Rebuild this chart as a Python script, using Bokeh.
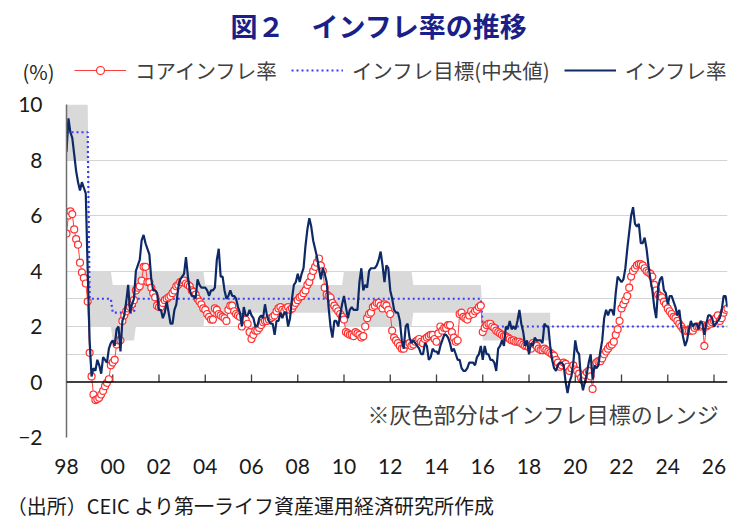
import numpy as np
from bokeh.plotting import figure
from bokeh.layouts import column
from bokeh.models import (Range1d, FixedTicker, Span, Label, Legend, LegendItem,
                          ColumnDataSource)
from bokeh.embed import file_html
from bokeh.resources import INLINE

# ---------------- data (monthly, Jan 1998 - Aug 2026) ----------------
start_year = 1998

# headline inflation (YoY, %)
cpi = [
    8.3, 9.5, 9.0, 8.8, 8.2, 7.6, 7.2, 6.9, 7.2, 7.0, 6.8, 4.0,      # 1998
    1.5, 0.2, 0.5, 0.4, 0.8, 0.6, 0.3, 0.9, 0.8, 0.7, 1.2, 1.4,      # 1999
    1.5, 1.3, 1.9, 2.0, 1.1, 2.2, 2.4, 2.9, 3.5, 2.5, 2.8, 3.0,      # 2000
    4.0, 4.2, 4.4, 5.1, 5.3, 5.0, 4.8, 4.6, 3.7, 3.3, 3.3, 3.2,      # 2001
    2.6, 2.6, 2.3, 2.5, 2.9, 2.5, 2.1, 2.1, 2.6, 2.8, 3.4, 3.7,      # 2002
    3.8, 3.9, 4.5, 3.8, 3.3, 3.1, 3.1, 3.0, 3.7, 3.5, 3.4, 3.4,      # 2003
    3.4, 3.3, 3.1, 3.3, 3.3, 3.4, 4.4, 4.8, 3.8, 3.8, 3.3, 3.0,      # 2004
    3.1, 3.3, 3.1, 3.1, 3.0, 2.7, 2.5, 2.0, 2.7, 2.4, 2.4, 2.6,      # 2005
    2.4, 2.3, 2.0, 2.0, 2.3, 2.4, 2.3, 2.8, 2.4, 2.2, 2.1, 2.1,      # 2006
    1.7, 2.2, 2.2, 2.5, 2.3, 2.5, 2.5, 2.0, 2.3, 3.0, 3.5, 3.6,      # 2007
    3.9, 3.6, 3.9, 4.1, 4.9, 5.5, 5.9, 5.6, 5.1, 4.8, 4.5, 4.1,      # 2008
    3.7, 4.1, 3.9, 3.6, 2.7, 2.0, 1.6, 2.2, 2.2, 2.0, 2.4, 2.8,      # 2009
    3.1, 2.7, 2.3, 2.6, 2.7, 2.6, 2.6, 2.6, 3.6, 4.1, 3.3, 3.5,      # 2010
    3.4, 4.0, 4.1, 4.1, 4.1, 4.2, 4.4, 4.7, 4.2, 3.6, 4.2, 4.1,      # 2011
    3.3, 3.0, 2.6, 2.5, 2.5, 2.2, 1.5, 1.2, 2.0, 2.1, 1.6, 1.4,      # 2012
    1.5, 1.4, 1.3, 1.2, 1.0, 1.0, 1.4, 1.3, 0.8, 0.9, 1.2, 1.1,      # 2013
    1.1, 1.0, 1.3, 1.5, 1.7, 1.7, 1.6, 1.4, 1.1, 1.2, 1.0, 0.8,      # 2014
    0.8, 0.5, 0.4, 0.4, 0.5, 0.7, 0.7, 0.7, 0.6, 0.9, 1.0, 1.3,      # 2015
    0.8, 1.3, 1.0, 1.0, 0.8, 0.8, 0.7, 0.4, 1.2, 1.3, 1.5, 1.3,      # 2016
    2.0, 1.9, 2.2, 1.9, 2.0, 1.9, 2.2, 2.6, 2.1, 1.8, 1.3, 1.5,      # 2017
    1.0, 1.4, 1.3, 1.6, 1.5, 1.5, 1.5, 1.4, 2.1, 2.0, 2.0, 1.3,      # 2018
    0.8, 0.5, 0.4, 0.6, 0.7, 0.7, 0.6, 0.0, -0.4, 0.0, 0.2, 0.7,     # 2019
    1.5, 1.1, 1.0, 0.1, -0.3, 0.0, 0.3, 0.7, 1.0, 0.1, 0.6, 0.5,     # 2020
    0.6, 1.1, 1.5, 2.3, 2.6, 2.4, 2.6, 2.6, 2.4, 3.2, 3.8, 3.7,      # 2021
    3.6, 3.7, 4.1, 4.8, 5.4, 6.0, 6.3, 5.7, 5.6, 5.7, 5.0, 5.0,      # 2022
    5.2, 4.8, 4.2, 3.7, 3.3, 2.7, 2.3, 3.4, 3.7, 3.8, 3.3, 3.2,      # 2023
    2.8, 3.1, 3.1, 2.9, 2.7, 2.4, 2.6, 2.0, 1.6, 1.3, 1.5, 1.9,      # 2024
    2.2, 2.0, 2.1, 2.1, 1.9, 2.2, 2.1, 1.7, 2.1, 2.4, 2.4, 2.3,      # 2025
    2.0, 2.1, 2.2, 2.3, 2.6, 3.1, 3.1, 2.7,                          # 2026
]

# core inflation (YoY, %)
core = [
    5.35, 6.0, 6.15, 6.05, 5.5, 5.15, 4.95, 4.3, 3.95, 3.75, 3.55, 2.9,        # 1998
    1.05, 0.2, -0.45, -0.65, -0.62, -0.57, -0.45, -0.32, -0.15, -0.03, 0.1, 0.6,  # 1999
    0.7, 0.8, 1.35, 1.5, 1.5, 2.2, 2.4, 2.55, 2.65, 2.7, 2.8, 2.95,            # 2000
    3.3, 3.4, 3.45, 3.65, 4.15, 4.15, 3.6, 3.6, 3.4, 3.2, 3.05, 2.75,          # 2001
    2.7, 2.7, 2.85, 2.95, 3.0, 3.05, 3.1, 3.2, 3.3, 3.45, 3.5, 3.6,            # 2002
    3.6, 3.65, 3.55, 3.5, 3.45, 3.3, 3.25, 3.15, 3.0, 2.9, 2.8, 2.65,          # 2003
    2.6, 2.45, 2.35, 2.25, 2.25, 2.65, 2.6, 2.45, 2.4, 2.35, 2.3, 2.2,         # 2004
    2.6, 2.75, 2.75, 2.55, 2.45, 2.4, 2.35, 2.0, 2.3, 2.25, 2.1, 1.8,          # 2005
    1.55, 1.7, 1.85, 1.85, 1.95, 2.05, 2.15, 2.2, 2.2, 2.25, 2.3, 2.35,        # 2006
    2.4, 2.55, 2.65, 2.7, 2.6, 2.55, 2.65, 2.7, 2.6, 2.65, 2.75, 2.85,         # 2007
    2.95, 3.05, 3.1, 3.2, 3.3, 3.5, 3.6, 3.8, 4.0, 4.15, 4.3, 4.45,            # 2008
    4.2, 4.0, 3.4, 3.15, 3.1, 3.05, 2.85, 2.75, 2.65, 2.55, 2.45, 2.35,        # 2009
    2.25, 1.8, 1.75, 1.7, 1.7, 1.65, 1.8, 1.75, 1.7, 1.6, 1.65, 2.0,           # 2010
    2.3, 2.45, 2.5, 2.7, 2.75, 2.85, 2.85, 2.75, 2.65, 2.8, 2.75, 2.6,         # 2011
    2.45, 1.85, 1.6, 1.5, 1.4, 1.3, 1.2, 1.2, 1.35, 1.35, 1.4, 1.3,            # 2012
    1.35, 1.45, 1.5, 1.55, 1.45, 1.4, 1.55, 1.6, 1.65, 1.7, 1.7, 1.55,         # 2013
    1.45, 1.75, 2.0, 1.85, 1.95, 1.95, 2.05, 2.05, 1.8, 1.6, 1.45, 1.5,        # 2014
    2.45, 2.5, 2.35, 2.3, 2.25, 2.4, 2.55, 2.45, 2.55, 2.6, 2.7, 2.75,         # 2015
    1.8, 1.95, 2.05, 2.1, 2.1, 2.0, 1.95, 1.85, 1.8, 1.75, 1.7, 1.65,          # 2016
    1.65, 1.6, 1.55, 1.5, 1.5, 1.45, 1.45, 1.45, 1.4, 1.35, 1.3, 1.3,          # 2017
    1.25, 1.2, 1.4, 1.35, 1.3, 1.2, 1.15, 1.15, 1.2, 1.15, 1.1, 1.05,          # 2018
    1.0, 0.95, 0.8, 0.7, 0.55, 0.6, 0.7, 0.65, 0.55, 0.4, 0.5, 0.6,            # 2019
    0.45, 0.4, 0.3, 0.15, 0.05, 0.25, 0.35, 0.4, 0.2, -0.25, 0.6, 0.7,         # 2020
    0.75, 0.75, 0.85, 1.0, 1.1, 1.2, 1.3, 1.35, 1.45, 1.7, 1.9, 2.2,           # 2021
    2.65, 2.8, 2.95, 3.1, 3.4, 3.8, 4.0, 4.1, 4.2, 4.25, 4.25, 4.2,            # 2022
    4.1, 4.0, 3.95, 3.9, 3.8, 3.5, 3.3, 3.15, 3.1, 3.05, 2.9, 2.8,             # 2023
    2.65, 2.55, 2.45, 2.35, 2.3, 2.2, 2.1, 2.0, 1.9, 1.85, 1.85, 1.85,         # 2024
    1.85, 1.85, 1.95, 2.0, 2.0, 2.0, 2.05, 1.3, 2.0, 2.05, 2.1, 2.15,          # 2025
    2.2, 2.3, 2.4, 2.2, 2.3, 2.5, 2.6, 2.65,                                   # 2026
]

# inflation target regimes (first year of each regime)
target_start = [1998, 1999, 2000, 2001, 2004, 2010, 2013, 2016, 2019]
target_mid = [9.0, 3.0, 2.5, 3.0, 3.0, 3.0, 3.0, 2.0, 2.0]
target_low = [8.0, 2.0, 1.5, 2.0, 2.5, 2.0, 2.5, 1.5, None]
target_high = [10.0, 4.0, 3.5, 4.0, 3.5, 4.0, 3.5, 2.5, None]

xtick_years = list(range(1998, 2027, 2))
xtick_labels = ["98", "00", "02", "04", "06", "08", "10", "12", "14",
                "16", "18", "20", "22", "24", "26"]
ytick_values = [-2, 0, 2, 4, 6, 8, 10]
grid_values = [-2, 1, 2, 3, 4, 6, 8, 10]

title_text = "図２　インフレ率の推移"
unit_text = "(%)"
note_text = "※灰色部分はインフレ目標のレンジ"
source_text = "（出所）CEIC より第一ライフ資産運用経済研究所作成"

# ---------------- derived ----------------
n = len(cpi)
t = [start_year + i / 12.0 for i in range(n)]


def regime(year):
    k = 0
    for j, s in enumerate(target_start):
        if year >= s:
            k = j
    return k


tgt = [target_mid[regime(int(np.floor(x + 1e-9)))] for x in t]
band_x, band_lo, band_hi = [], [], []
for x in t:
    k = regime(int(np.floor(x + 1e-9)))
    if target_low[k] is None:
        break
    band_x.append(x)
    band_lo.append(target_low[k])
    band_hi.append(target_high[k])

src = ColumnDataSource(dict(t=t, cpi=cpi, core=core, tgt=tgt))
band = ColumnDataSource(dict(x=band_x, lo=band_lo, hi=band_hi))

JP = "Noto Sans CJK JP"
NUM = "Lato"
W = 738
FL, FR = 66, 727          # frame left / right (page px)

CORE_STYLE = dict(line_color="#FF4040", line_width=1)
CORE_MARK = dict(marker="circle", size=7, line_color="#FF3030", fill_color="white",
                 line_width=1.2)
TGT_STYLE = dict(line_color="#3A3AFF", line_width=2.2, line_dash="2 3")
CPI_STYLE = dict(line_color="#0E2A66", line_width=2.2)

# ---------------- header: title, unit, legend ----------------
HH = 92
head = figure(width=W, height=HH, x_range=Range1d(FL, FR), y_range=Range1d(HH, 0),
              x_axis_type=None, output_backend="svg", toolbar_location=None,
              min_border_left=FL, min_border_right=W - FR,
              min_border_top=0, min_border_bottom=0)
head.outline_line_color = None
head.grid.visible = False
head.yaxis.ticker = FixedTicker(ticks=[70.5])
head.yaxis.major_label_overrides = {70.5: unit_text}
head.yaxis.axis_line_color = None
head.yaxis.major_tick_line_color = None
head.yaxis.minor_tick_line_color = None
head.yaxis.major_tick_out = 0
head.yaxis.minor_tick_out = 0
head.yaxis.major_label_standoff = 12
head.yaxis.major_label_text_font = JP
head.yaxis.major_label_text_font_size = "20px"
head.yaxis.major_label_text_color = "#262626"

head.add_layout(Label(x=378.5, y=25, text=title_text, text_align="center",
                      text_baseline="middle", text_font=JP, text_font_size="27px",
                      text_font_style="bold", text_color="#1B1F8A"))
hx, hy = [-50], [-50]
l_core = head.line(hx, hy, **CORE_STYLE)
m_core = head.scatter(hx, hy, **CORE_MARK)
l_tgt = head.line(hx, hy, **TGT_STYLE)
l_cpi = head.line(hx, hy, **CPI_STYLE)
legend = Legend(items=[
    LegendItem(label="コアインフレ率", renderers=[l_core, m_core]),
    LegendItem(label="インフレ目標(中央値)", renderers=[l_tgt]),
    LegendItem(label="インフレ率", renderers=[l_cpi]),
], orientation="horizontal", location=(8, 7),
    glyph_width=52, glyph_height=20, label_standoff=9, spacing=14,
    padding=0, margin=0, border_line_color=None, background_fill_alpha=0,
    label_text_font=JP, label_text_font_size="20.5px", label_text_color="#404040")
head.add_layout(legend)

# ---------------- main chart ----------------
p = figure(frame_width=FR - FL, frame_height=333,
           x_range=Range1d(start_year, start_year + (n - 1) / 12.0),
           y_range=Range1d(-2, 10),
           output_backend="svg", toolbar_location=None,
           min_border_left=FL, min_border_right=W - FR,
           min_border_top=12, min_border_bottom=46)
p.outline_line_color = None
p.background_fill_color = "white"
p.border_fill_color = "white"

p.xgrid.visible = False
p.ygrid.ticker = FixedTicker(ticks=grid_values)
p.ygrid.grid_line_color = "#D4D4D4"
p.ygrid.grid_line_width = 1

p.xaxis.ticker = FixedTicker(ticks=xtick_years)
p.xaxis.major_label_overrides = {y: l for y, l in zip(xtick_years, xtick_labels)}
p.xaxis.axis_line_color = None
p.xaxis.major_tick_line_color = None
p.xaxis.minor_tick_line_color = None
p.xaxis.major_tick_out = 0
p.xaxis.major_label_standoff = 21
p.xaxis.major_label_text_font = NUM
p.xaxis.major_label_text_font_size = "21px"
p.xaxis.major_label_text_color = "#1a1a1a"

p.yaxis.ticker = FixedTicker(ticks=ytick_values)
p.yaxis.axis_line_color = "#6E6E6E"
p.yaxis.axis_line_width = 1.5
p.yaxis.major_tick_line_color = None
p.yaxis.minor_tick_line_color = None
p.yaxis.major_tick_out = 0
p.yaxis.minor_tick_out = 0
p.yaxis.major_label_standoff = 24
p.yaxis.major_label_text_font = NUM
p.yaxis.major_label_text_font_size = "21px"
p.yaxis.major_label_text_color = "#1a1a1a"

p.varea(x="x", y1="lo", y2="hi", source=band, fill_color="#D9D9D9")

p.add_layout(Span(location=0, dimension="width", line_color="black", line_width=1.6))
p.segment(x0=xtick_years[1:], x1=xtick_years[1:], y0=[0] * (len(xtick_years) - 1),
          y1=[0.27] * (len(xtick_years) - 1), line_color="#404040", line_width=1.3)

p.line("t", "tgt", source=src, **TGT_STYLE)
p.line("t", "core", source=src, **CORE_STYLE)
p.scatter("t", "core", source=src, **CORE_MARK)
p.line("t", "cpi", source=src, **CPI_STYLE)

p.add_layout(Label(x=301, y=25, x_units="screen", y_units="screen",
                   text=note_text, text_align="left",
                   text_baseline="middle", text_font=JP, text_font_size="22px",
                   text_color="#404040"))

# ---------------- footer: source ----------------
FH = 37
foot = figure(width=W, height=FH, x_range=Range1d(FL, FR), y_range=Range1d(0, 1),
              y_axis_type=None, output_backend="svg", toolbar_location=None,
              min_border_left=FL, min_border_right=W - FR,
              min_border_top=0, min_border_bottom=FH - 2)
foot.outline_line_color = None
foot.grid.visible = False
foot.xaxis.ticker = FixedTicker(ticks=[250])
foot.xaxis.major_label_overrides = {250: source_text}
foot.xaxis.axis_line_color = None
foot.xaxis.major_tick_line_color = None
foot.xaxis.minor_tick_line_color = None
foot.xaxis.major_tick_out = 0
foot.xaxis.minor_tick_out = 0
foot.xaxis.major_label_standoff = 7
foot.xaxis.major_label_text_font = JP
foot.xaxis.major_label_text_font_size = "20px"
foot.xaxis.major_label_text_color = "#1a1a1a"

layout = column(head, p, foot, spacing=0)
open("out.html", "w").write(file_html(layout, INLINE))
